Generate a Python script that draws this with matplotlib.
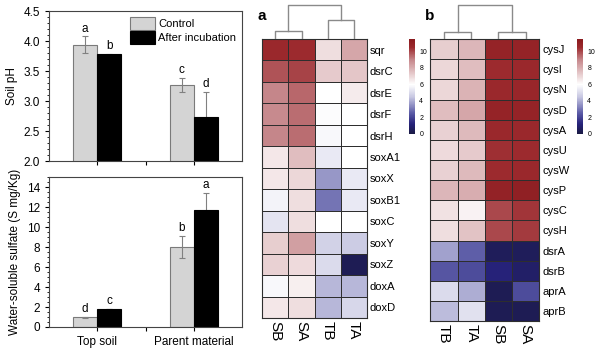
import numpy as np
import matplotlib.pyplot as plt
from matplotlib.colors import LinearSegmentedColormap, Normalize

plt.rcParams["font.family"] = ["Liberation Sans", "DejaVu Sans"]

# ── Data ─────────────────────────────────────────────────────────────────────
soils = ["Top soil", "Parent material"]

ph_control = [3.94, 3.27]
ph_control_err = [0.14, 0.12]
ph_incub = [3.78, 2.73]
ph_incub_err = [0.01, 0.42]
ph_letters_control = ["a", "c"]
ph_letters_incub = ["b", "d"]

so4_control = [0.98, 8.0]
so4_control_err = [0.06, 1.08]
so4_incub = [1.82, 11.74]
so4_incub_err = [0.03, 1.64]
so4_letters_control = ["d", "b"]
so4_letters_incub = ["c", "a"]

genes_a = ["sqr", "dsrC", "dsrE", "dsrF", "dsrH", "soxA1", "soxX", "soxB1",
           "soxC", "soxY", "soxZ", "doxA", "doxD"]
samples_a = ["SB", "SA", "TB", "TA"]
values_a = [
    [10.6, 10.5, 6.8, 8.2],
    [9.8, 10.1, 7.3, 7.4],
    [9.0, 9.5, 6.0, 6.5],
    [8.9, 9.4, 5.9, 6.0],
    [9.0, 9.4, 5.8, 6.0],
    [6.6, 7.6, 5.4, 6.0],
    [6.6, 7.0, 3.6, 5.4],
    [5.7, 6.8, 3.0, 5.4],
    [5.3, 6.8, 6.0, 6.0],
    [7.2, 8.4, 4.8, 4.6],
    [7.1, 6.9, 5.0, 0.4],
    [5.8, 6.4, 4.2, 4.2],
    [6.6, 6.8, 4.2, 4.9],
]
dendro_a = [0.24, 0.56, 1.0]   # merge heights: pair(0,1), pair(2,3), root

genes_b = ["cysJ", "cysI", "cysN", "cysD", "cysA", "cysU", "cysW", "cysP",
           "cysC", "cysH", "dsrA", "dsrB", "aprA", "aprB"]
samples_b = ["TB", "TA", "SB", "SA"]
values_b = [
    [7.2, 7.8, 10.9, 10.9],
    [7.0, 7.6, 10.5, 10.6],
    [7.0, 7.9, 10.6, 10.7],
    [7.6, 8.2, 10.9, 10.9],
    [7.1, 7.7, 10.6, 10.6],
    [6.9, 7.3, 10.4, 10.5],
    [7.1, 7.7, 10.5, 10.6],
    [7.8, 8.0, 11.0, 11.1],
    [6.7, 6.3, 10.0, 10.3],
    [6.8, 7.5, 10.0, 10.2],
    [3.8, 2.6, 0.5, 0.5],
    [2.4, 2.2, 1.2, 0.8],
    [5.0, 4.0, 0.4, 2.2],
    [4.3, 5.2, 0.4, 0.4],
]
dendro_b = [0.2, 0.2, 1.0]

fig = plt.figure(figsize=(6.0, 3.62), dpi=100)

# ── Bar charts ───────────────────────────────────────────────────────────────
x = np.array([1.0, 2.0])
w = 0.25
grey = "#d4d4d4"


def bar_panel(ax, ctrl, ctrl_err, inc, inc_err, l_ctrl, l_inc, off):
    ax.bar(x - w / 2, ctrl, w, color=grey, edgecolor="#7a7a7a", lw=0.8,
           label="Control", zorder=2)
    ax.bar(x + w / 2, inc, w, color="black", edgecolor="black", lw=0.8,
           label="After incubation", zorder=2)
    ax.errorbar(x - w / 2, ctrl, yerr=ctrl_err, fmt="none", ecolor="#808080",
                elinewidth=0.8, capsize=2, capthick=0.8, zorder=3)
    ax.errorbar(x + w / 2, inc, yerr=inc_err, fmt="none", ecolor="#808080",
                elinewidth=0.8, capsize=2, capthick=0.8, zorder=1)
    for xi, v, e, t in zip(x - w / 2, ctrl, ctrl_err, l_ctrl):
        ax.text(xi, v + e + off, t, ha="center", va="bottom", fontsize=8.5)
    for xi, v, e, t in zip(x + w / 2, inc, inc_err, l_inc):
        ax.text(xi, v + e + off, t, ha="center", va="bottom", fontsize=8.5)
    ax.set_xlim(0.5, 2.5)
    ax.set_xticks([1, 1.5, 2])
    ax.tick_params(axis="both", labelsize=8.5, length=3, width=0.8,
                   direction="out")
    ax.minorticks_on()
    ax.tick_params(axis="x", which="minor", bottom=False)
    ax.tick_params(axis="y", which="minor", length=1.8, width=0.6)
    for s in ax.spines.values():
        s.set_linewidth(0.8)
        s.set_color("#444444")


ax1 = fig.add_axes([0.0817, 0.555, 0.322, 0.414])
bar_panel(ax1, ph_control, ph_control_err, ph_incub, ph_incub_err,
          ph_letters_control, ph_letters_incub, 0.03)
ax1.set_ylim(2.0, 4.5)
ax1.set_yticks(np.arange(2.0, 4.51, 0.5))
ax1.set_xticklabels([])
ax1.set_ylabel("Soil pH", fontsize=8.5, labelpad=4)
ax1.legend(loc="upper right", frameon=False, fontsize=8,
           handlelength=2.2, handleheight=1.4, borderaxespad=0.15,
           labelspacing=0.05, handletextpad=0.3)

ax2 = fig.add_axes([0.0817, 0.0967, 0.322, 0.414])
bar_panel(ax2, so4_control, so4_control_err, so4_incub, so4_incub_err,
          so4_letters_control, so4_letters_incub, 0.2)
ax2.set_ylim(0, 15)
ax2.set_yticks(np.arange(0, 15, 2))
ax2.set_xticklabels(["Top soil", "", "Parent material"], fontsize=8.5)
ax2.set_ylabel("Water-soluble sulfate (S mg/Kg)", fontsize=8.5, labelpad=4)

# ── Heat maps ────────────────────────────────────────────────────────────────
vmax = 11.5
cmap_nodes = [
    (0.0, "#1a1a44"),
    (1.2, "#26227a"),
    (2.5, "#5a5aa6"),
    (4.5, "#c8c8e2"),
    (6.0, "#ffffff"),
    (7.5, "#e2c2c4"),
    (9.0, "#c6878b"),
    (10.5, "#9c2a2e"),
    (11.5, "#8a1a1e"),
]
cmap = LinearSegmentedColormap.from_list(
    "nwf", [(v / vmax, c) for v, c in cmap_nodes])
norm = Normalize(vmin=0, vmax=vmax)


def heat_panel(rect, drect, crect, vals, rows, cols, dheights, letter):
    vals = np.array(vals)
    ax = fig.add_axes(rect)
    ax.pcolormesh(vals, cmap=cmap, norm=norm, edgecolors="#2e2e2e",
                  linewidth=0.6)
    ax.set_xlim(0, len(cols))
    ax.set_ylim(len(rows), 0)
    ax.yaxis.tick_right()
    ax.set_yticks(np.arange(len(rows)) + 0.5)
    ax.set_yticklabels(rows, fontsize=8)
    ax.set_xticks(np.arange(len(cols)) + 0.5)
    ax.set_xticklabels(cols, rotation=270, fontsize=11)
    ax.tick_params(length=0, pad=2)
    for s in ax.spines.values():
        s.set_linewidth(0.8)
        s.set_color("#2e2e2e")

    # dendrogram from merge heights
    dax = fig.add_axes(drect)
    h01, h23, hr = dheights
    kw = dict(color="#8a8a8a", lw=1.0)
    dax.plot([0.5, 0.5, 1.5, 1.5], [0, h01, h01, 0], **kw)
    dax.plot([2.5, 2.5, 3.5, 3.5], [0, h23, h23, 0], **kw)
    dax.plot([1.0, 1.0, 3.0, 3.0], [h01, hr, hr, h23], **kw)
    dax.set_xlim(0, len(cols))
    dax.set_ylim(0, 1.02)
    dax.axis("off")
    fig.text(rect[0] - 0.008, 0.955, letter, fontsize=11, fontweight="bold",
             ha="left", va="center")

    cax = fig.add_axes(crect)
    cb = fig.colorbar(plt.cm.ScalarMappable(norm=norm, cmap=cmap), cax=cax,
                      ticks=[0, 2, 4, 6, 8, 10])
    cb.outline.set_visible(False)
    cb.ax.tick_params(labelsize=5, length=0, pad=3)


heat_panel([0.437, 0.1215, 0.175, 0.771], [0.437, 0.892, 0.175, 0.097],
           [0.682, 0.63, 0.01, 0.262], values_a, genes_a, samples_a,
           dendro_a, "a")
heat_panel([0.717, 0.113, 0.182, 0.779], [0.717, 0.892, 0.182, 0.097],
           [0.962, 0.63, 0.01, 0.262], values_b, genes_b, samples_b,
           dendro_b, "b")

fig.savefig("out.png", dpi=100)
